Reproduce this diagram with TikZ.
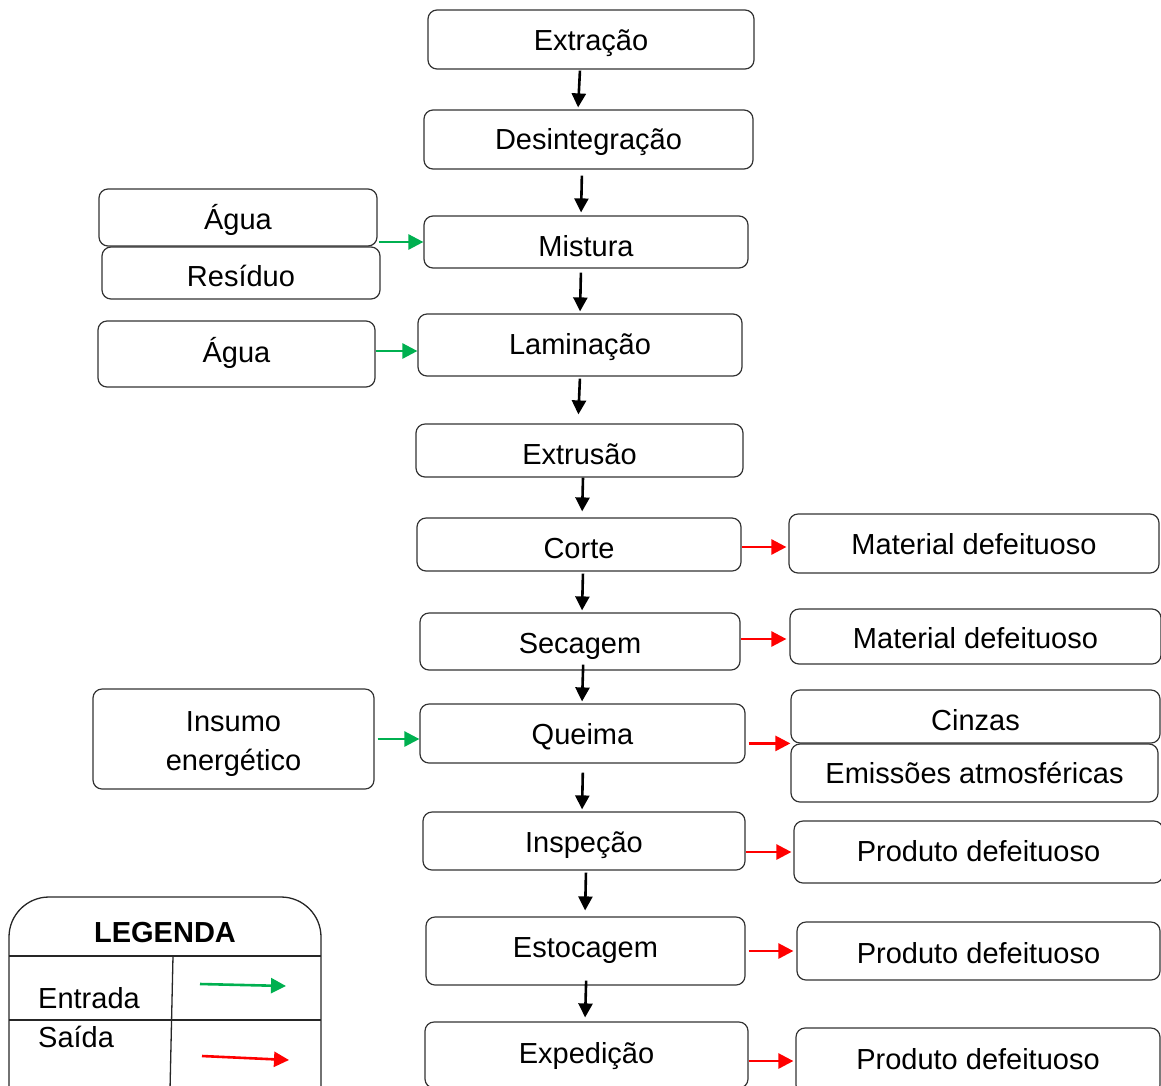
\documentclass[tikz,border=0pt]{standalone}
\usepackage{fontspec}
\setmainfont{Liberation Sans}
\usetikzlibrary{arrows.meta}
\definecolor{ingreen}{RGB}{0,176,80}
\definecolor{outred}{RGB}{255,0,0}
\begin{document}
\begin{tikzpicture}[x=1pt,y=-1pt,
  box/.style={draw=black!80, rounded corners=9pt, line width=1.2pt, inner sep=0pt,
    font=\fontsize{29}{39}\selectfont, align=center},
  th/.style={text height=#1, text depth=0pt},
  flow/.style={line width=2.6pt, -{Triangle[length=14pt,width=14pt]}},
  inarr/.style={draw=ingreen, line width=2.6pt, -{Triangle[length=15pt,width=15pt]}, color=ingreen},
  outarr/.style={draw=outred, line width=2.6pt, -{Triangle[length=15pt,width=15pt]}, color=outred},
  legtxt/.style={font=\fontsize{29}{34}\selectfont, inner sep=0pt}]
\useasboundingbox (0,0) rectangle (1161,1085);
\clip (0,0) rectangle (1161,1085);

% main chain
\node[box, th=22pt, minimum width=326pt, minimum height=59pt] (ext) at (591,39.5) {Extração};
\node[box, th=20pt, minimum width=329pt, minimum height=59pt] (des) at (588.5,139.5) {Desintegração};
\node[box, th=29pt, minimum width=324pt, minimum height=52pt] (mis) at (586,242) {Mistura};
\node[box, th=19pt, minimum width=324pt, minimum height=62pt] (lam) at (580,345) {Laminação};
\node[box, th=28pt, minimum width=327pt, minimum height=53pt] (extr) at (579.5,450.5) {Extrusão};
\node[box, th=28pt, minimum width=324pt, minimum height=53pt] (cor) at (579,544.5) {Corte};
\node[box, th=24pt, minimum width=320pt, minimum height=57pt] (sec) at (580,641.5) {Secagem};
\node[box, th=22pt, minimum width=325pt, minimum height=59pt] (que) at (582.5,733.5) {Queima};
\node[box, th=23pt, minimum width=322pt, minimum height=58pt] (insp) at (584,841) {Inspeção};
\node[box, th=13pt, minimum width=319pt, minimum height=68pt] (est) at (585.5,951) {Estocagem};
\node[box, th=17pt, minimum width=323pt, minimum height=66pt] (exp) at (586.5,1055) {Expedição};

% inputs
\node[box, th=24pt, minimum width=278pt, minimum height=57pt] (agua1) at (238,217.5) {Água};
\node[box, th=27pt, minimum width=278pt, minimum height=52pt] (res) at (241,273) {Resíduo};
\node[box, th=17pt, minimum width=277pt, minimum height=66pt] (agua2) at (236.5,354) {Água};
\node[box, text height=62pt, text depth=0pt, minimum width=281pt, minimum height=100pt] (ins) at (233.5,739) {Insumo\\energético};

% outputs
\node[box, th=22pt, minimum width=370pt, minimum height=59pt] (md1) at (974,543.5) {Material defeituoso};
\node[box, th=24pt, minimum width=371pt, minimum height=55pt] (md2) at (975.5,636.5) {Material defeituoso};
\node[box, th=28pt, minimum width=369pt, minimum height=53pt] (cin) at (975.5,716.5) {Cinzas};
\node[box, th=21pt, minimum width=367pt, minimum height=58pt] (emi) at (974.5,773) {Emissões atmosféricas};
\node[box, th=19pt, minimum width=369pt, minimum height=62pt] (pd1) at (978.5,852) {Produto defeituoso};
\node[box, th=25pt, minimum width=363pt, minimum height=58pt] (pd2) at (978.5,951) {Produto defeituoso};
\node[box, th=17pt, minimum width=364pt, minimum height=66pt] (pd3) at (978,1061) {Produto defeituoso};

% black flow arrows
\draw[flow, shorten <=1pt, shorten >=2pt] ([xshift=-11pt]ext.south) -- ([xshift=-10.5pt]des.north);
\draw[flow, shorten <=6pt, shorten >=3pt] ([xshift=-6.5pt]des.south) -- ([xshift=-5pt]mis.north);
\draw[flow, shorten <=4pt, shorten >=2pt] ([xshift=-5pt]mis.south) -- (lam.north);
\draw[flow, shorten <=2pt, shorten >=9pt] (lam.south) -- ([xshift=-1.5pt]extr.north);
\draw[flow, shorten <=0pt, shorten >=6pt] ([xshift=3.5pt]extr.south) -- ([xshift=3pt]cor.north);
\draw[flow, shorten <=2pt, shorten >=2pt] ([xshift=4pt]cor.south) -- ([xshift=2pt]sec.north);
\draw[flow, shorten <=-6pt, shorten >=2pt] ([xshift=3pt]sec.south) -- ([xshift=-0.5pt]que.north);
\draw[flow, shorten <=9pt, shorten >=2pt] ([xshift=0.5pt]que.south) -- ([xshift=-2pt]insp.north);
\draw[flow, shorten <=2pt, shorten >=6pt] ([xshift=2pt]insp.south) -- ([xshift=-0.5pt]est.north);
\draw[flow, shorten <=-5pt, shorten >=4pt] ([xshift=0.5pt]est.south) -- ([xshift=-1.5pt]exp.north);

% green input arrows
\draw[inarr, shorten <=1pt] (agua1.south east |- mis.west) -- (mis.west);
\draw[inarr] ([yshift=3pt]agua2.east) -- ([yshift=3pt]agua2.east -| lam.west);
\draw[inarr, shorten <=3pt] (ins.east) -- (ins.east -| que.west);

% red output arrows
\draw[outarr, shorten >=2pt] ([yshift=-2.5pt]cor.east) -- ([yshift=-2.5pt]cor.east -| md1.west);
\draw[outarr, shorten >=3pt] ([yshift=2.5pt]sec.east) -- ([yshift=2.5pt]sec.east -| md2.west);
\draw[outarr, shorten <=3pt] (que.east |- emi.north west) -- (emi.north west);
\draw[outarr, shorten >=2pt] (insp.east |- pd1.west) -- (pd1.west);
\draw[outarr, shorten <=3pt, shorten >=3pt] (est.east) -- (est.east -| pd2.west);
\draw[outarr, shorten <=0pt, shorten >=2pt] (exp.east |- pd3.west) -- (pd3.west);

% legend
\draw[black!85, line width=1.3pt, rounded corners=40pt] (9,897) rectangle (321,1130);
\draw[black!85, line width=1.3pt] (9,956) -- (321,956);
\draw[black!85, line width=1.3pt] (9,1020) -- (321,1020);
\draw[black!85, line width=1.3pt] (173,956) -- (170,1090);
\node[legtxt, font=\fontsize{29}{34}\selectfont\bfseries] (legt) at (165,932) {LEGENDA};
\node[legtxt, anchor=west] (lent) at (38,998) {Entrada};
\node[legtxt, anchor=west] (lsai) at (38,1037) {Saída};
\coordinate (lg1a) at (200,984);
\coordinate (lg1b) at (286,986);
\coordinate (lg2a) at (202,1056);
\coordinate (lg2b) at (289,1060);
\draw[inarr] (lg1a) -- (lg1b);
\draw[outarr] (lg2a) -- (lg2b);
\end{tikzpicture}
\end{document}
